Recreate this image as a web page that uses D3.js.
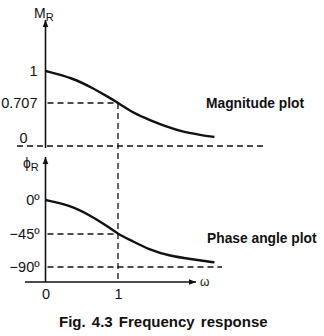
<!DOCTYPE html>
<html>
<head>
<meta charset="utf-8">
<script src="https://cdn.jsdelivr.net/npm/d3@7"></script>
<style>
  html, body { margin: 0; padding: 0; background: #fff; }
  svg { display: block; }
  text { font-family: "Liberation Sans", Arial, Helvetica, sans-serif; fill: #111; }
</style>
</head>
<body>
<svg id="chart" width="324" height="336"></svg>
<script>
// ---- data ----
const magOmega   = [0, 0.375, 0.65, 0.89, 1, 1.21, 1.44, 1.68, 1.9, 2.14, 2.33];
const magnitude  = [1, 0.936, 0.844, 0.753, 0.707, 0.543, 0.427, 0.312, 0.23, 0.181, 0.148];
const phaseOmega = [0, 0.33, 0.61, 0.85, 1, 1.17, 1.44, 1.72, 2.0, 2.28, 2.33];
const phase      = [0, -6.6, -19.9, -34.4, -45, -53.2, -66.8, -75, -79.1, -83.2, -83.5];
const magTicks = [0, 0.707, 1];
const magTickLabels = ["0", "0.707", "1"];
const phaseTicks = [0, -45, -90];
const phaseTickLabels = ["0º", "−45º", "−90º"];
const omegaTicks = [0, 1];
const omegaTickLabels = ["0", "1"];
const magTitle = "Magnitude plot";
const phaseTitle = "Phase angle plot";
const caption = "Fig. 4.3 Frequency response";

// ---- scales (schematic, not to scale, as in the figure) ----
const x = d3.scaleLinear().domain([0, 1]).range([45.5, 118]);
const magY = d3.scaleLinear().domain([0, 0.707, 1]).range([146, 103, 71]);
const phY = d3.scaleLinear().domain([-90, -45, 0]).range([267, 234, 200]);

const svg = d3.select("#chart");
const ink = "#111";
const dash = "6,4";

// arrow marker
const defs = svg.append("defs");
defs.append("marker").attr("id", "arr").attr("viewBox", "0 0 10 10")
  .attr("refX", 10).attr("refY", 5).attr("markerWidth", 7).attr("markerHeight", 7)
  .attr("markerUnits", "userSpaceOnUse").attr("orient", "auto")
  .append("path").attr("d", "M0,1 L10,5 L0,9 Z").attr("fill", ink);

const x0 = x(0);

// ---- top panel axes ----
svg.append("line").attr("x1", x0).attr("x2", x0).attr("y1", magY(0) + 2).attr("y2", 20)
  .attr("stroke", ink).attr("stroke-width", 1.6).attr("marker-end", "url(#arr)");
const mr = svg.append("text").attr("x", 34).attr("y", 18).attr("font-size", 14);
mr.append("tspan").text("M");
mr.append("tspan").attr("font-size", 11).attr("dy", 3).text("R");

// zero dashed line
svg.append("line").attr("x1", 17).attr("x2", 263).attr("y1", magY(0)).attr("y2", magY(0))
  .attr("stroke", ink).attr("stroke-width", 1.4).attr("stroke-dasharray", dash);
// 0.707 dashed
svg.append("line").attr("x1", x0 + 2).attr("x2", x(1)).attr("y1", magY(0.707)).attr("y2", magY(0.707))
  .attr("stroke", ink).attr("stroke-width", 1.3).attr("stroke-dasharray", dash);

// y tick labels via axis
const magAxis = svg.append("g").attr("transform", `translate(${x0},0)`)
  .call(d3.axisLeft(magY).tickValues(magTicks).tickSize(0).tickPadding(8)
    .tickFormat((d, i) => magTickLabels[i]));
magAxis.select(".domain").remove();
magAxis.selectAll("text").attr("font-size", 14.5).attr("font-family", "Liberation Sans, Arial, sans-serif")
  .attr("fill", ink)
  .attr("dx", d => d === 0 ? -10 : 0)
  .attr("dy", d => d === 0 ? "-0.25em" : "0.32em");

// magnitude curve
const magLine = d3.line().x((d, i) => x(magOmega[i])).y(d => magY(d)).curve(d3.curveBasis);
svg.append("path").datum(magnitude).attr("d", magLine).attr("fill", "none")
  .attr("stroke", ink).attr("stroke-width", 2.4);

svg.append("text").attr("x", 206).attr("y", 108).attr("font-size", 13.8).attr("font-weight", "bold").text(magTitle);

// vertical dashed at omega = 1
svg.append("line").attr("x1", x(1)).attr("x2", x(1)).attr("y1", magY(0.707)).attr("y2", 282)
  .attr("stroke", ink).attr("stroke-width", 1.3).attr("stroke-dasharray", dash);

// ---- bottom panel axes ----
const xAxisY = 282;
svg.append("line").attr("x1", x0).attr("x2", x0).attr("y1", xAxisY).attr("y2", 157)
  .attr("stroke", ink).attr("stroke-width", 1.6).attr("marker-end", "url(#arr)");
svg.append("line").attr("x1", 25).attr("x2", 196).attr("y1", xAxisY).attr("y2", xAxisY)
  .attr("stroke", ink).attr("stroke-width", 1.6).attr("marker-end", "url(#arr)");
svg.append("text").attr("x", 200).attr("y", 286).attr("font-size", 12)
  .attr("font-family", "DejaVu Serif, serif").text("ω");

const ph = svg.append("text").attr("x", 23).attr("y", 168).attr("font-size", 14);
ph.append("tspan").text("ϕ");
ph.append("tspan").attr("font-size", 11).attr("dy", 3).text("R");

// dashed -45 and -90
svg.append("line").attr("x1", x0 + 2).attr("x2", x(1)).attr("y1", phY(-45)).attr("y2", phY(-45))
  .attr("stroke", ink).attr("stroke-width", 1.3).attr("stroke-dasharray", dash);
svg.append("line").attr("x1", x0 + 2).attr("x2", 222).attr("y1", phY(-90)).attr("y2", phY(-90))
  .attr("stroke", ink).attr("stroke-width", 1.3).attr("stroke-dasharray", dash);

const phAxis = svg.append("g").attr("transform", `translate(${x0},0)`)
  .call(d3.axisLeft(phY).tickValues(phaseTicks).tickSize(0).tickPadding(6)
    .tickFormat((d, i) => phaseTickLabels[i]));
phAxis.select(".domain").remove();
phAxis.selectAll("text").attr("font-size", 14.5).attr("font-family", "Liberation Sans, Arial, sans-serif")
  .attr("fill", ink).attr("dy", "0.32em");

const xAxis = svg.append("g").attr("transform", `translate(0,${xAxisY})`)
  .call(d3.axisBottom(x).tickValues(omegaTicks).tickSize(0).tickPadding(7)
    .tickFormat((d, i) => omegaTickLabels[i]));
xAxis.select(".domain").remove();
xAxis.selectAll("text").attr("font-size", 14.5).attr("font-family", "Liberation Sans, Arial, sans-serif")
  .attr("fill", ink);

// phase curve
const phLine = d3.line().x((d, i) => x(phaseOmega[i])).y(d => phY(d)).curve(d3.curveBasis);
svg.append("path").datum(phase).attr("d", phLine).attr("fill", "none")
  .attr("stroke", ink).attr("stroke-width", 2.4);

svg.append("text").attr("x", 207).attr("y", 243).attr("font-size", 13.8).attr("font-weight", "bold").text(phaseTitle);

// caption
svg.append("text").attr("x", 59).attr("y", 327).attr("font-size", 15).attr("font-weight", "bold")
  .attr("word-spacing", 2).text(caption);
</script>
</body>
</html>
